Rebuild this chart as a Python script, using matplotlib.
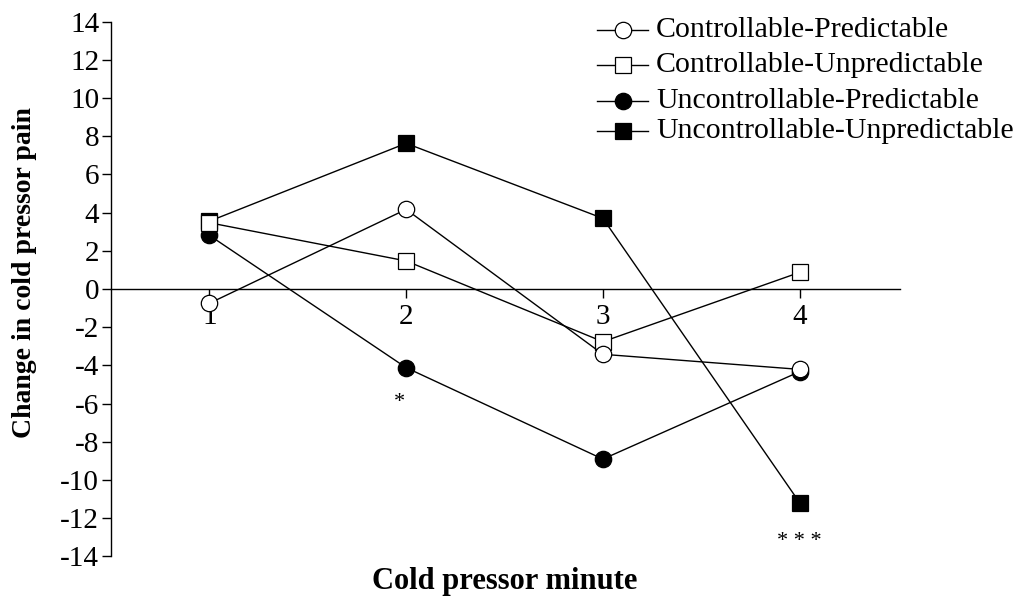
import matplotlib
matplotlib.use('Agg')
import matplotlib.pyplot as plt
from matplotlib.lines import Line2D

plt.rcParams['font.family'] = ['Liberation Serif', 'DejaVu Serif']
plt.rcParams['axes.unicode_minus'] = False

minutes = [1, 2, 3, 4]
ctrl_pred = [-0.75, 4.17, -3.42, -4.21]
ctrl_unpred = [3.47, 1.47, -2.76, 0.87]
unctrl_pred = [2.81, -4.12, -8.91, -4.33]
unctrl_unpred = [3.55, 7.63, 3.70, -11.19]
labels = ['Controllable-Predictable', 'Controllable-Unpredictable',
          'Uncontrollable-Predictable', 'Uncontrollable-Unpredictable']

W, H = 1035, 599
fig = plt.figure(figsize=(W / 100, H / 100), dpi=100)
ax = fig.add_axes([111 / W, 42.7 / H, (900 - 111) / W, (577.3 - 42.7) / H])

ms = 11.8
mew = 0.9
lw = 1.0
# draw order: filled series first so the open markers sit on top
series = [
    (unctrl_unpred, 's', 'black', labels[3]),
    (unctrl_pred, 'o', 'black', labels[2]),
    (ctrl_unpred, 's', 'white', labels[1]),
    (ctrl_pred, 'o', 'white', labels[0]),
]
for vals, mk, fc, lab in series:
    ax.plot(minutes, vals, color='black', lw=lw, marker=mk, ms=ms,
            mfc=fc, mec='black', mew=mew, clip_on=False, label=lab)

ax.set_xlim(0.5, 4.51)
ax.set_ylim(-14, 14)
ax.set_yticks(range(-14, 15, 2))
ax.set_xticks(minutes)

ax.spines['top'].set_visible(False)
ax.spines['right'].set_visible(False)
ax.spines['bottom'].set_position(('data', 0))
for s in ('left', 'bottom'):
    ax.spines[s].set_linewidth(1.0)
ax.tick_params(axis='both', direction='out', length=6.5, width=1.0,
               labelsize=21, colors='black')
ax.tick_params(axis='x', pad=4)
ax.tick_params(axis='y', pad=2)

# significance markers
ax.text(1.966, -5.95, '*', fontsize=16, ha='center', va='center')
ax.text(4.0, -13.2, '* * *', fontsize=16, ha='center', va='center')

fig.text(505 / W, 1 - 582 / H, 'Cold pressor minute', fontsize=22,
         fontweight='bold', ha='center', va='center')
fig.text(25 / W, 1 - 273 / H, 'Change in cold pressor pain', fontsize=20,
         fontweight='bold', ha='center', va='center', rotation=90)

# legend drawn by hand
leg_rows = [30, 65, 101, 131]
leg_items = [('o', 'white'), ('s', 'white'), ('o', 'black'), ('s', 'black')]
for (mk, fc), lab, yr in zip(leg_items, labels, leg_rows):
    yf = 1 - yr / H
    fig.add_artist(Line2D([597.3 / W, 648.3 / W], [yf, yf], color='black',
                          lw=lw, transform=fig.transFigure))
    fig.add_artist(Line2D([623.3 / W], [yf], marker=mk, ms=ms,
                          mfc=fc, mec='black', mew=mew, ls='none',
                          transform=fig.transFigure))
    fig.text(656 / W, yf, lab, fontsize=21.5, ha='left', va='center')

fig.savefig('out.png', dpi=100, facecolor='white')
